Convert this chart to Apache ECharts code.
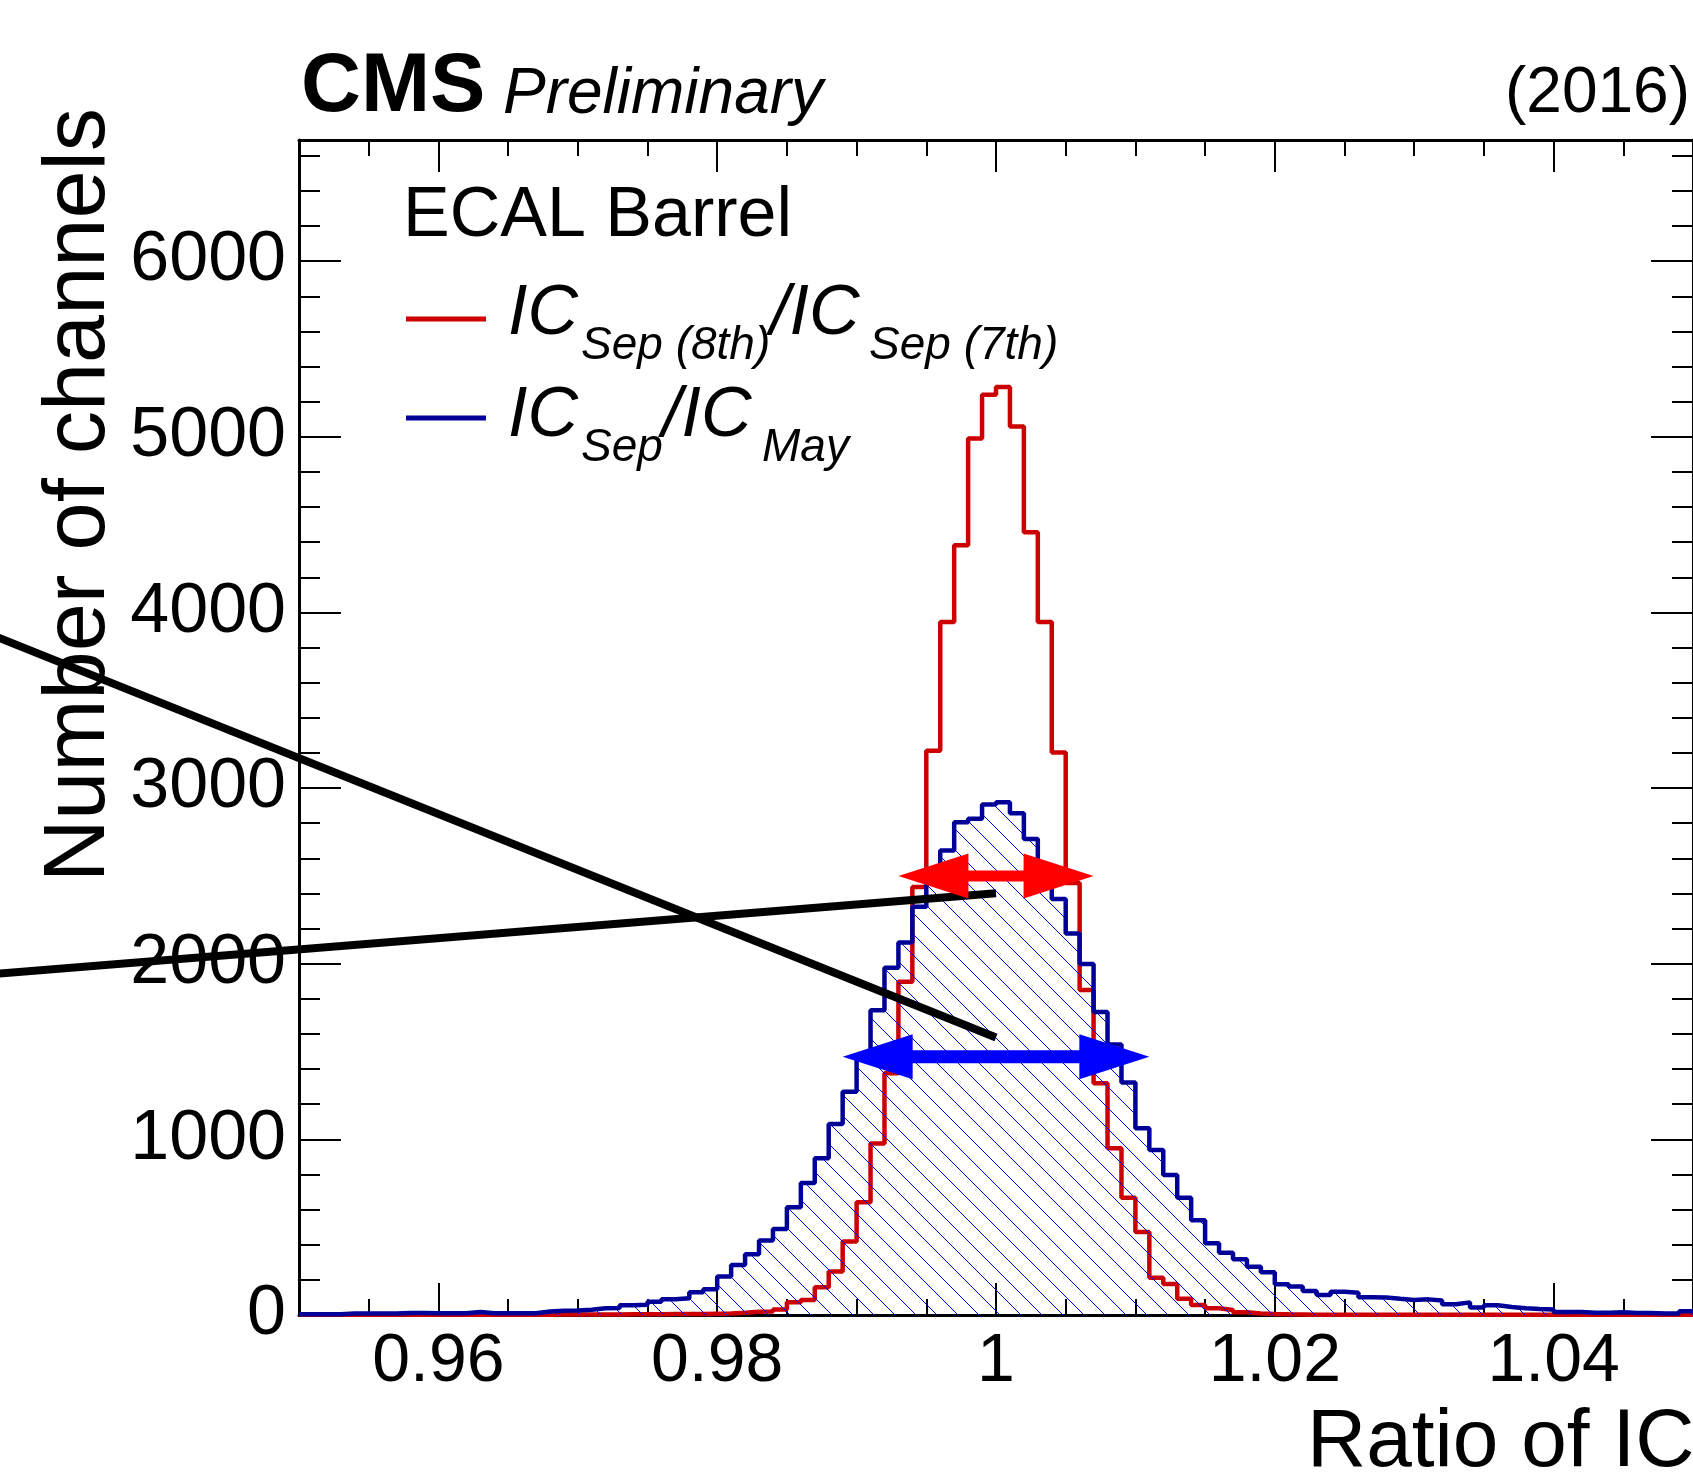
<!DOCTYPE html>
<html>
<head>
<meta charset="utf-8">
<title>Ratio of IC</title>
<script src="https://cdn.jsdelivr.net/npm/echarts@6/dist/echarts.min.js"></script>
<style>
  html, body { margin: 0; padding: 0; background: #fff; }
  #main { width: 1693px; height: 1476px; }
</style>
</head>
<body>
<div id="main"></div>
<script>
// histogram binning (100 bins of 0.001)
const binLow = 0.95
const binHigh = 1.05
const binWidth = 0.001

const xMajorTicks = [0.96, 0.98, 1, 1.02, 1.04]
const yMajorTicks = [0, 1000, 2000, 3000, 4000, 5000, 6000]
const yMax = 6690

// IC Sep(8th) / IC Sep(7th)  (red)
const icSep8thOver7th = [
  1, 1, 1, 1, 1, 1, 1, 1, 1, 1,
  1, 1, 1, 1, 1, 2, 2, 2, 3, 3,
  3, 3, 3, 4, 4, 4, 5, 5, 6, 7,
  8, 13, 19, 20, 32, 72, 85, 158, 248, 418,
  642, 977, 1377, 1897, 2437, 3213, 3946, 4383, 4990, 5240,
  5283, 5059, 4456, 3946, 3202, 2460, 1850, 1319, 950, 668,
  472, 212, 176, 92, 57, 38, 28, 15, 9, 6,
  4, 3, 2, 2, 2, 2, 2, 2, 1, 1,
  1, 1, 1, 1, 1, 1, 1, 1, 1, 1,
  1, 1, 1, 1, 1, 1, 1, 1, 1, 1
]

// IC Sep / IC May  (blue, hatched)
const icSepOverMay = [
  4, 4, 4, 8, 8, 8, 8, 12, 12, 10,
  10, 10, 17, 10, 10, 10, 10, 20, 24, 26,
  30, 38, 40, 55, 58, 76, 89, 95, 129, 147,
  219, 285, 346, 424, 489, 614, 751, 892, 1088, 1271,
  1458, 1735, 1977, 2121, 2325, 2480, 2645, 2806, 2825, 2906,
  2920, 2857, 2710, 2560, 2368, 2172, 1998, 1725, 1540, 1324,
  1063, 940, 797, 668, 539, 408, 355, 317, 275, 243,
  175, 162, 137, 114, 133, 127, 101, 99, 92, 86,
  89, 82, 61, 72, 42, 55, 46, 38, 34, 32,
  17, 17, 13, 13, 15, 12, 11, 9, 8, 21
]

// annotations in axis units: [xFrom, xTo, y]
const redArrow = [0.993, 1.007, 2500]
const blueArrow = [0.989, 1.011, 1470]
// black strokes: [[x1, y1], [x2, y2]]
const blackLines = [
  [[0.928, 3871], [1.0, 1580]],
  [[0.928, 1941], [1.0, 2401]]
]

const fontFamily = 'Liberation Sans, Arial, Helvetica, sans-serif'
const RED = '#cc0000'
const BLUE = '#000099'

function histData(values) {
  const pts = values.map((v, i) => [binLow + i * binWidth, v])
  pts.push([binHigh, values[values.length - 1]])
  return pts
}

function hatchPattern() {
  const c = document.createElement('canvas')
  c.width = 21
  c.height = 21
  const ctx = c.getContext('2d')
  ctx.strokeStyle = '#0000ee'
  ctx.lineWidth = 1
  ctx.beginPath()
  ctx.moveTo(-2, -2)
  ctx.lineTo(23, 23)
  ctx.stroke()
  return c
}

function plain(v) {
  return String(v)
}

function xAxisCfg(position, major) {
  return {
    type: 'value', position: position, min: binLow, max: binHigh,
    interval: major ? undefined : 0.005,
    axisLine: { show: major, onZero: false, lineStyle: { color: '#000', width: 3 } },
    axisTick: major
      ? { inside: true, length: 32, customValues: xMajorTicks, lineStyle: { color: '#000', width: 2 } }
      : { inside: true, length: 16, lineStyle: { color: '#000', width: 2 } },
    axisLabel: (major && position === 'bottom')
      ? { customValues: xMajorTicks, formatter: plain, fontSize: 68, color: '#000', fontFamily: fontFamily, margin: 13 }
      : { show: false },
    splitLine: { show: false }
  }
}

function yAxisCfg(position, major) {
  return {
    type: 'value', position: position, min: 0, max: yMax,
    interval: major ? undefined : 200,
    axisLine: { show: major, onZero: false, lineStyle: { color: '#000', width: 3 } },
    axisTick: major
      ? { inside: true, length: 42, customValues: yMajorTicks, lineStyle: { color: '#000', width: 2 } }
      : { inside: true, length: 21, lineStyle: { color: '#000', width: 2 } },
    axisLabel: (major && position === 'left')
      ? { customValues: yMajorTicks, formatter: plain, fontSize: 70, color: '#000', fontFamily: fontFamily, margin: 13 }
      : { show: false },
    splitLine: { show: false }
  }
}

const chart = echarts.init(document.getElementById('main'), null, { renderer: 'canvas' })

chart.setOption({
  animation: false,
  backgroundColor: '#fff',
  grid: { left: 299, right: -1, top: 140, bottom: 161, containLabel: false },
  xAxis: [xAxisCfg('bottom', true), xAxisCfg('bottom', false), xAxisCfg('top', true), xAxisCfg('top', false)],
  yAxis: [yAxisCfg('left', true), yAxisCfg('left', false), yAxisCfg('right', true), yAxisCfg('right', false)],
  series: [
    {
      name: 'IC Sep (8th) / IC Sep (7th)',
      type: 'line', step: 'end', showSymbol: false, z: 3,
      data: histData(icSep8thOver7th),
      lineStyle: { color: RED, width: 4.5 }
    },
    {
      name: 'IC Sep / IC May',
      type: 'line', step: 'end', showSymbol: false, z: 4,
      data: histData(icSepOverMay),
      lineStyle: { color: BLUE, width: 4.5 },
      areaStyle: { color: { image: hatchPattern(), repeat: 'repeat' }, opacity: 1 }
    }
  ]
})

function px(x, y) {
  return chart.convertToPixel({ xAxisIndex: 0, yAxisIndex: 0 }, [x, y])
}

function arrowShape(spec, color, shaft) {
  const a = px(spec[0], spec[2])
  const b = px(spec[1], spec[2])
  const L = 70, H = 22.5, y = a[1]
  return {
    type: 'polygon', z: 50,
    shape: { points: [
      [a[0], y], [a[0] + L, y - H], [a[0] + L, y - shaft], [b[0] - L, y - shaft], [b[0] - L, y - H],
      [b[0], y], [b[0] - L, y + H], [b[0] - L, y + shaft], [a[0] + L, y + shaft], [a[0] + L, y + H]
    ] },
    style: { fill: color }
  }
}

function text(str, x, baseline, size, opts) {
  // verticalAlign middle sits ~0.3465em above the baseline
  return {
    type: 'text', x: x, y: baseline - 0.3465 * size, z: 60,
    style: Object.assign({
      text: str, fill: '#000', fontSize: size, fontFamily: fontFamily,
      align: 'left', verticalAlign: 'middle', textAlign: 'left', textVerticalAlign: 'middle'
    }, opts || {})
  }
}

const italic = { fontStyle: 'italic' }
const graphics = []

blackLines.forEach(function (ln) {
  const p1 = px(ln[0][0], ln[0][1])
  const p2 = px(ln[1][0], ln[1][1])
  graphics.push({
    type: 'line', z: 40,
    shape: { x1: p1[0], y1: p1[1], x2: p2[0], y2: p2[1] },
    style: { stroke: '#000', lineWidth: 8 }
  })
})
graphics.push(arrowShape(redArrow, '#ff0000', 5.5))
graphics.push(arrowShape(blueArrow, '#0000ff', 6.5))

// header
graphics.push(text('CMS', 301, 117, 83, { fontWeight: 'bold' }))
graphics.push(text('Preliminary', 503, 117, 64, italic))
graphics.push(text('(2016)', 1690, 117, 64, { align: 'right', textAlign: 'right' }))

// legend block
graphics.push(text('ECAL Barrel', 403, 241, 70))
graphics.push({ type: 'line', z: 60, shape: { x1: 406, y1: 319, x2: 486, y2: 319 }, style: { stroke: RED, lineWidth: 5 } })
graphics.push(text('IC', 508, 339, 70, italic))
graphics.push(text('Sep (8th)', 581, 362, 46, italic))
graphics.push(text('/IC', 770, 339, 70, italic))
graphics.push(text('Sep (7th)', 869, 362, 46, italic))
graphics.push({ type: 'line', z: 60, shape: { x1: 406, y1: 418, x2: 486, y2: 418 }, style: { stroke: BLUE, lineWidth: 5 } })
graphics.push(text('IC', 508, 441, 70, italic))
graphics.push(text('Sep', 581, 464, 46, italic))
graphics.push(text('/IC', 662, 441, 70, italic))
graphics.push(text('May', 762, 464, 46, italic))

// axis titles
graphics.push(text('Ratio of IC', 1307, 1472, 82))
graphics.push({
  type: 'text', x: 80, y: 108, rotation: Math.PI / 2, z: 60,
  style: {
    text: 'Number of channels', fill: '#000', fontSize: 86.5, fontFamily: fontFamily,
    align: 'right', verticalAlign: 'middle', textAlign: 'right', textVerticalAlign: 'middle'
  }
})

chart.setOption({ graphic: graphics })
</script>
</body>
</html>
